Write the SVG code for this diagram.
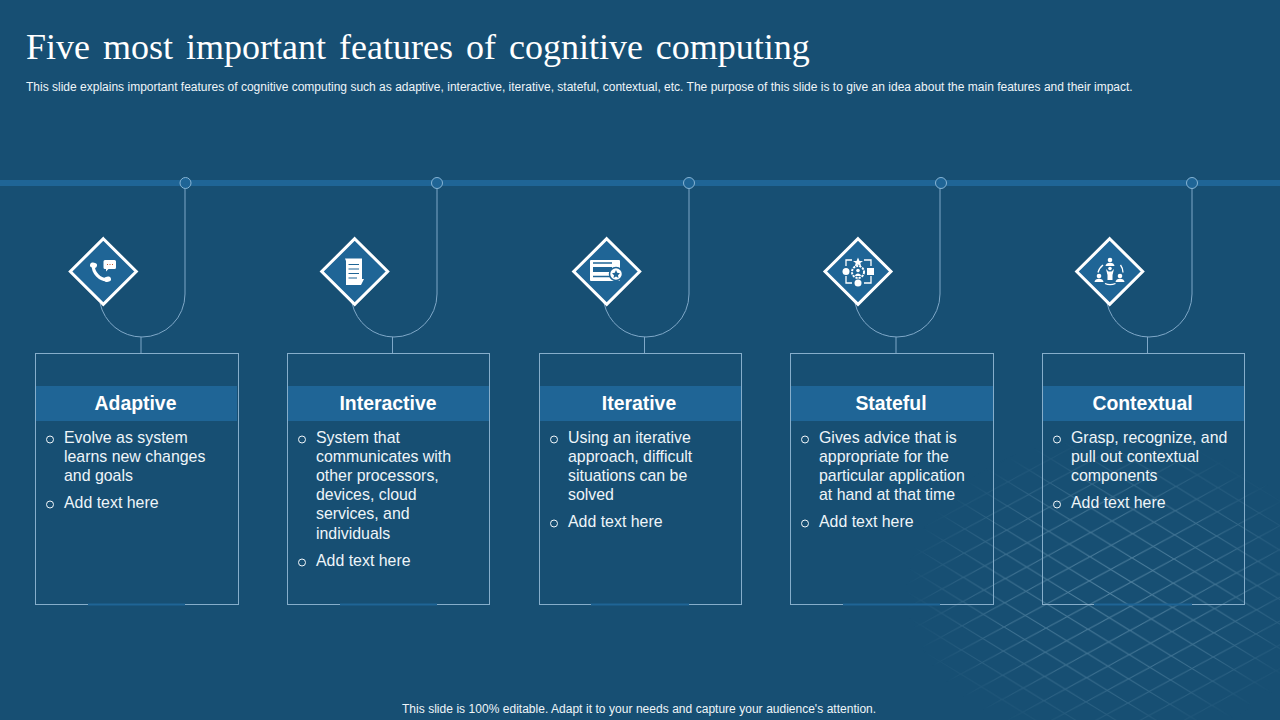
<svg xmlns="http://www.w3.org/2000/svg" width="1280" height="720" viewBox="0 0 1280 720">
<style>
text{font-family:"Liberation Sans",Arial,sans-serif;fill:#eef5f9}
.title{font-family:"Liberation Serif","Times New Roman",serif;font-size:36px;word-spacing:4px;fill:#fff}
.small{font-size:12px}
.h{font-size:19.400px;font-weight:700;text-anchor:middle;fill:#fff}
.b{font-size:15.900px}
.card{fill:none;stroke:#86aecb;stroke-width:1}
.head{fill:#1f6596}
.acc{fill:none;stroke:#1f6596;stroke-width:2}
.bul{fill:none;stroke:#f2f7fa;stroke-width:1}
.con{fill:none;stroke:#7fa8c8;stroke-width:1}
.dot{fill:#1f6596;stroke:#86b4d4;stroke-width:1}
.dia{fill:#1f6596;stroke:#fff;stroke-width:3}
.w{fill:#fff}
.ws{fill:none;stroke:#fff;stroke-width:1.300}
.wt{fill:none;stroke:#fff;stroke-linecap:round}
</style>
<defs>
<pattern id="gridp" width="42" height="24.200" patternUnits="userSpaceOnUse" patternTransform="translate(1090 556.700) rotate(1.600)">
<path d="M0 0L42 24.200M0 24.200L42 0" fill="none" stroke="#9cc4da" stroke-width="1"/>
</pattern>
<radialGradient id="fade" gradientUnits="userSpaceOnUse" cx="0" cy="0" r="1" gradientTransform="translate(1115 590) scale(210 155)">
<stop offset="0" stop-color="#fff" stop-opacity=".5"/>
<stop offset=".55" stop-color="#fff" stop-opacity=".33"/>
<stop offset="1" stop-color="#fff" stop-opacity="0"/>
</radialGradient>
<mask id="gridm" maskUnits="userSpaceOnUse" x="900" y="430" width="380" height="290"><rect x="900" y="430" width="380" height="290" fill="url(#fade)"/></mask>
</defs>
<rect width="1280" height="720" fill="#174f73"/>
<rect x="900" y="430" width="380" height="290" fill="url(#gridp)" mask="url(#gridm)"/>
<text class="title" x="26" y="59">Five most important features of cognitive computing</text>
<text class="small" x="26" y="91" word-spacing=".03">This slide explains important features of cognitive computing such as adaptive, interactive, iterative, stateful, contextual, etc. The purpose of this slide is to give an idea about the main features and their impact.</text>
<rect x="0" y="180" width="1280" height="6" fill="#1f6596"/>
<g id="connectors">
<path class="con" d="M185 188V294A43 43 0 0 1 142 337A43 43 0 0 1 100 303M141 337V353"/>
<path class="con" d="M437 188V294A43 43 0 0 1 394 337A43 43 0 0 1 352 303M392.500 337V353"/>
<path class="con" d="M689 188V294A43 43 0 0 1 646 337A43 43 0 0 1 604 303M644.500 337V353"/>
<path class="con" d="M940 188V294A43 43 0 0 1 897 337A43 43 0 0 1 855 303M896 337V353"/>
<path class="con" d="M1192 188V294A43 43 0 0 1 1149 337A43 43 0 0 1 1107 303M1147.500 337V353"/>
<circle class="dot" cx="185.500" cy="183" r="5.500"/>
<circle class="dot" cx="437" cy="183" r="5.500"/>
<circle class="dot" cx="689" cy="183" r="5.500"/>
<circle class="dot" cx="941" cy="183" r="5.500"/>
<circle class="dot" cx="1192" cy="183" r="5.500"/>
</g>
<g id="node-adaptive">
<path class="dia" d="M103.300 238.700L136.300 271.500L103.300 304.300L70.300 271.500Z"/>
<path class="wt" d="M93.500 265.500C92.500 272 100 280.500 107.500 279.500" style="stroke-width:3.200"/>
<path class="wt" d="M92.500 265L94.500 265.500M106.500 279.500L108.500 279" style="stroke-width:5"/>
<path class="w" d="M105 260h9.500a1.500 1.500 0 0 1 1.500 1.500v6a1.500 1.500 0 0 1-1.500 1.500h-6l-2.500 2.500v-2.500h-1a1.500 1.500 0 0 1-1.500-1.500v-6a1.500 1.500 0 0 1 1.500-1.500z"/>
<path d="M107 264.500h1M109.500 264.500h1M112 264.500h1" stroke="#c9603a" stroke-width="1"/>
<rect class="card" x="35.500" y="353.500" width="203" height="251"/>
<rect class="head" x="36" y="386" width="201" height="35"/>
<path class="acc" d="M88 604.500H185"/>
<text class="h" x="135.500" y="410">Adaptive</text>
<circle class="bul" cx="50" cy="439.500" r="3.500"/>
<text class="b" x="64" y="443">Evolve as system</text>
<text class="b" x="64" y="462">learns new changes</text>
<text class="b" x="64" y="481">and goals</text>
<circle class="bul" cx="50" cy="504.500" r="3.500"/>
<text class="b" x="64" y="508">Add text here</text>
</g>
<g id="node-interactive">
<path class="dia" d="M354.700 238.700L387.700 271.500L354.700 304.300L321.700 271.500Z"/>
<path class="w" d="M345 258.500H362V279H364L361 285H346V261Z"/>
<path d="M348.500 264.500H359M348.500 269H359M348.500 273.500H359M348.500 278H357" stroke="#1f6596" stroke-width="1.200"/>
<rect class="card" x="287.500" y="353.500" width="202" height="251"/>
<rect class="head" x="288" y="386" width="201" height="35"/>
<path class="acc" d="M340 604.500H437"/>
<text class="h" x="388" y="410">Interactive</text>
<circle class="bul" cx="302" cy="439.500" r="3.500"/>
<text class="b" x="316" y="443">System that</text>
<text class="b" x="316" y="462">communicates with</text>
<text class="b" x="316" y="481">other processors,</text>
<text class="b" x="316" y="500">devices, cloud</text>
<text class="b" x="316" y="519">services, and</text>
<text class="b" x="316" y="539">individuals</text>
<circle class="bul" cx="302" cy="562.500" r="3.500"/>
<text class="b" x="316" y="566">Add text here</text>
</g>
<g id="node-iterative">
<path class="dia" d="M606.700 238.700L639.700 271.500L606.700 304.300L573.700 271.500Z"/>
<rect class="w" x="590" y="260" width="30" height="21" rx="1"/>
<path d="M593 263H612M593 276.500H610" stroke="#1f6596" stroke-width="1.300"/>
<rect x="593" y="267" width="19" height="5" fill="#1f6596"/>
<circle cx="616" cy="274" r="6.500" fill="#fff" stroke="#1f6596" stroke-width="1.500"/>
<path d="M616 270L617.200 272.800L620 273.200L618 275.200L618.500 278L616 276.600L613.500 278L614 275.200L612 273.200L614.800 272.800Z" fill="#1f6596"/>
<rect class="card" x="539.500" y="353.500" width="202" height="251"/>
<rect class="head" x="540" y="386" width="201" height="35"/>
<path class="acc" d="M591 604.500H689"/>
<text class="h" x="639" y="410">Iterative</text>
<circle class="bul" cx="554" cy="439.500" r="3.500"/>
<text class="b" x="568" y="443">Using an iterative</text>
<text class="b" x="568" y="462">approach, difficult</text>
<text class="b" x="568" y="481">situations can be</text>
<text class="b" x="568" y="500">solved</text>
<circle class="bul" cx="554" cy="523.500" r="3.500"/>
<text class="b" x="568" y="527">Add text here</text>
</g>
<g id="node-stateful">
<path class="dia" d="M858 238.700L891 271.500L858 304.300L825 271.500Z"/>
<path class="ws" d="M852 260H846V266M864 260H871V266M846 276V283H852M871 276V283H864"/>
<path class="w" d="M858 257.500L859.500 261H863L860.300 263L861.300 266.500L858 264.500L854.700 266.500L855.700 263L853 261H856.500Z"/>
<circle class="w" cx="846" cy="271.500" r="3.500"/>
<rect class="w" x="867" y="268" width="7" height="7"/>
<circle class="w" cx="858" cy="283" r="3.500"/>
<circle cx="858" cy="272" r="6" fill="none" stroke="#fff" stroke-width="2" stroke-dasharray="2.200 1"/>
<circle class="w" cx="858" cy="270.500" r="1.800"/>
<path class="w" d="M855 276C855 272.500 861 272.500 861 276Z"/>
<rect class="card" x="790.500" y="353.500" width="203" height="251"/>
<rect class="head" x="791" y="386" width="202" height="35"/>
<path class="acc" d="M843 604.500H940"/>
<text class="h" x="891" y="410">Stateful</text>
<circle class="bul" cx="805" cy="439.500" r="3.500"/>
<text class="b" x="819" y="443">Gives advice that is</text>
<text class="b" x="819" y="462">appropriate for the</text>
<text class="b" x="819" y="481">particular application</text>
<text class="b" x="819" y="500">at hand at that time</text>
<circle class="bul" cx="805" cy="523.500" r="3.500"/>
<text class="b" x="819" y="527">Add text here</text>
</g>
<g id="node-contextual">
<path class="dia" d="M1109.700 238.700L1142.700 271.500L1109.700 304.300L1076.700 271.500Z"/>
<circle class="w" cx="1110" cy="260" r="2.300"/>
<path class="w" d="M1105.500 266C1105.500 261.500 1114.500 261.500 1114.500 266Z"/>
<circle class="w" cx="1099" cy="276" r="2.300"/>
<path class="w" d="M1094.500 282C1094.500 277.500 1103.500 277.500 1103.500 282Z"/>
<circle class="w" cx="1120" cy="276" r="2.300"/>
<path class="w" d="M1115.500 282C1115.500 277.500 1124.500 277.500 1124.500 282Z"/>
<circle class="w" cx="1110" cy="268.500" r="1.800"/>
<path class="w" d="M1106 269L1108.500 271.500H1111.500L1114 269L1112.500 275V280H1107.500V275Z"/>
<path class="ws" d="M1098 272.500C1098.500 270 1100 267.500 1103 265M1120.500 265C1122 267 1123 269.500 1123 272.500M1105 283.500C1108 285 1112 285 1115.500 283.500"/>
<rect class="card" x="1042.500" y="353.500" width="202" height="251"/>
<rect class="head" x="1043" y="386" width="201" height="35"/>
<path class="acc" d="M1094 604.500H1192"/>
<text class="h" x="1142.500" y="410">Contextual</text>
<circle class="bul" cx="1057" cy="439.500" r="3.500"/>
<text class="b" x="1071" y="443">Grasp, recognize, and</text>
<text class="b" x="1071" y="462">pull out contextual</text>
<text class="b" x="1071" y="481">components</text>
<circle class="bul" cx="1057" cy="504.500" r="3.500"/>
<text class="b" x="1071" y="508">Add text here</text>
</g>
<text class="small" x="402" y="713" word-spacing=".2">This slide is 100% editable. Adapt it to your needs and capture your audience's attention.</text>
</svg>
